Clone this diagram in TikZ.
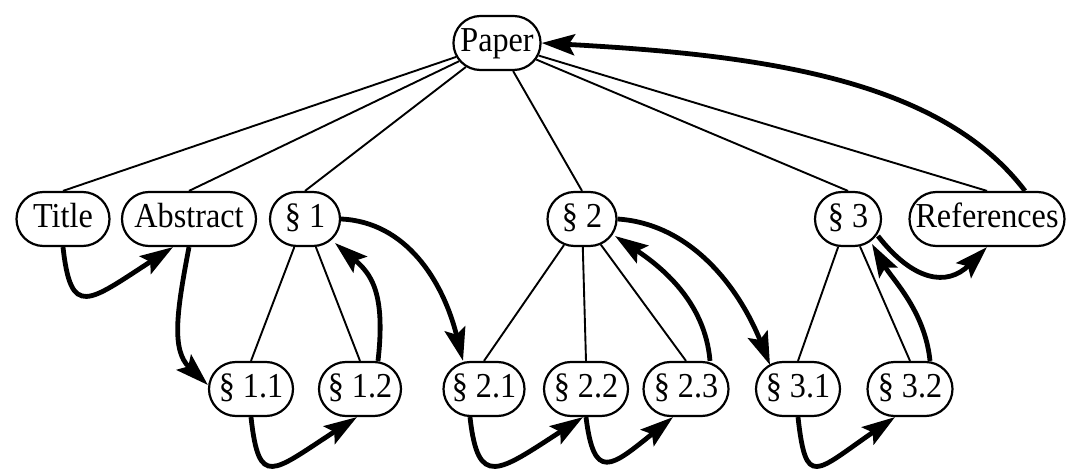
\documentclass[tikz,border=0pt]{standalone}
\usepackage{fontspec}
\setmainfont{Liberation Serif}[FakeStretch=0.92]
\usetikzlibrary{arrows.meta,shapes.misc}
\begin{document}
\begin{tikzpicture}[x=1pt,y=-1pt,
  box/.style={rounded rectangle, draw, line width=2.2pt, fill=white,
    minimum height=54pt, inner xsep=2pt, inner ysep=0pt,
    text height=24pt, text depth=7pt,
    font=\fontsize{35}{38}\selectfont},
  tree/.style={line width=1.9pt},
  flow/.style={line width=4.8pt, -{Stealth[length=33pt,width=21pt,inset=6pt]}}]
\useasboundingbox (0,0) rectangle (1068,473);

% nodes
\node[box, minimum width=86pt]  (paper) at (497,43)  {Paper};
\node[box, minimum width=97pt]  (title) at (63,219)  {Title};
\node[box, minimum width=138pt] (abs)   at (189,219) {Abstract};
\node[box, minimum width=74pt]  (s1)    at (305,219) {§ 1};
\node[box, minimum width=73pt]  (s2)    at (582,219) {§ 2};
\node[box, minimum width=70pt]  (s3)    at (848,219) {§ 3};
\node[box, minimum width=159pt] (ref)   at (987,219) {References};
\node[box, minimum width=88pt]  (s11)   at (251,389) {§ 1.1};
\node[box, minimum width=86pt]  (s12)   at (360,389) {§ 1.2};
\node[box, minimum width=85pt]  (s21)   at (484,389) {§ 2.1};
\node[box, minimum width=88pt]  (s22)   at (586,389) {§ 2.2};
\node[box, minimum width=89pt]  (s23)   at (686,389) {§ 2.3};
\node[box, minimum width=88pt]  (s31)   at (798,389) {§ 3.1};
\node[box, minimum width=89pt]  (s32)   at (910,389) {§ 3.2};

% tree edges
\foreach \c in {title,abs,s1,s2,s3,ref}
  \draw[tree] (paper) -- (\c.north);
\draw[tree] (s1) -- (s11.north);
\draw[tree] (s1) -- (s12.north);
\draw[tree] (s2) -- (s21.north);
\draw[tree] (s2) -- (s22.north);
\draw[tree] (s2) -- (s23.north);
\draw[tree] (s3) -- (s31.north);
\draw[tree] (s3) -- (s32.north);

% reading-order arrows
\draw[flow] (title.south) .. controls +(8,72) and +(-85,55) .. ([xshift=-16pt]abs.south);
\draw[flow] (abs.south) .. controls +(-12,63) and +(-37,-35) .. ([yshift=4pt]s11.west);
\draw[flow] (s11.south) .. controls +(8,72) and +(-85,55) .. ([xshift=-3pt]s12.south);
\draw[flow] ([xshift=18pt]s12.north) .. controls +(8,-70) and +(35,30) .. ([xshift=30pt,yshift=-24pt]s1.center);
\draw[flow] (s1.east) .. controls +(65,3) and +(-20,-80) .. ([xshift=-21pt]s21.north);
\draw[flow] ([xshift=-14pt]s21.south) .. controls +(8,72) and +(-85,55) .. ([xshift=-3pt]s22.south);
\draw[flow] (s22.south) .. controls +(8,65) and +(-62,50) .. ([xshift=-13pt]s23.south);
\draw[flow] ([xshift=24pt]s23.north) .. controls +(-5,-60) and +(45,30) .. ([xshift=33pt,yshift=-17pt]s2.center);
\draw[flow] (s2.east) .. controls +(75,5) and +(-30,-75) .. ([xshift=-28pt,yshift=24pt]s31.center);
\draw[flow] (s31.south) .. controls +(8,72) and +(-80,55) .. ([xshift=-15pt]s32.south);
\draw[flow] ([xshift=20pt]s32.north) .. controls +(-5,-50) and +(20,35) .. ([xshift=24pt,yshift=-25pt]s3.center);
\draw[flow] ([xshift=30pt,yshift=-17pt]s3.center) .. controls +(35,45) and +(-40,40) .. (ref.south);
\draw[flow] ([xshift=38pt]ref.north) .. controls +(-85,-112) and +(220,12) .. (paper.east);
\end{tikzpicture}
\end{document}
